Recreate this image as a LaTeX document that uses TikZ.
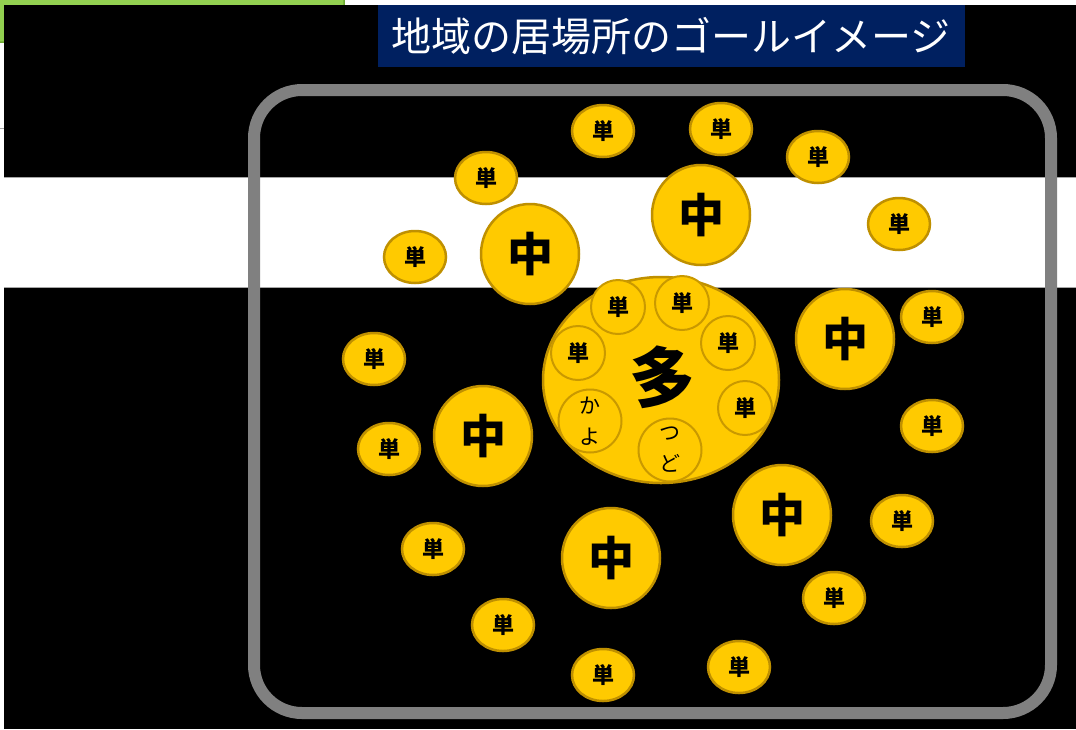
\documentclass[tikz,border=0pt]{standalone}
\usepackage{fontspec}
\newfontfamily\cjk{Noto Sans CJK JP}
\usetikzlibrary{shapes.geometric}
\definecolor{gold}{RGB}{255,202,0}
\definecolor{goldedge}{RGB}{191,144,0}
\definecolor{navy}{RGB}{0,32,96}
\definecolor{framegray}{RGB}{128,128,128}
\definecolor{lime}{RGB}{146,208,80}
\definecolor{limeedge}{RGB}{110,170,50}
\begin{document}
\begin{tikzpicture}[x=1pt,y=-1pt,
  tan/.style={ellipse, fill=gold, draw=goldedge, line width=2.5pt, minimum width=62pt, minimum height=52pt, inner sep=0pt, font=\cjk\bfseries\fontsize{22}{22}\selectfont},
  chu/.style={ellipse, fill=gold, draw=goldedge, line width=2.5pt, minimum width=98pt, minimum height=100pt, inner sep=0pt, font=\cjk\bfseries\fontsize{46}{46}\selectfont},
  inner/.style={circle, fill=gold, draw=goldedge!85!gold, line width=2pt, minimum size=54pt, inner sep=0pt, font=\cjk\bfseries\fontsize{22}{22}\selectfont},
  kana/.style={circle, fill=gold, draw=goldedge!85!gold, line width=2pt, minimum size=63pt, inner sep=0pt, align=center, font=\cjk\fontsize{21}{31}\selectfont}]
\useasboundingbox (0,0) rectangle (1076,729);
\fill[white] (0,0) rectangle (1076,729);
% green shape top-left
\draw[fill=lime, draw=limeedge, line width=1.5pt, rounded corners=30pt] (-40,-40) rectangle (344,42);
% black background
\fill[black] (4,5) rectangle (1076,729);
% white band
\fill[white] (4,177) rectangle (1076,287);
\draw[gray!70, line width=1pt] (4,177) -- (1076,177);
\draw[gray!70, line width=1pt] (4,287) -- (1076,287);
\draw[gray!70, line width=0.8pt] (0,128) -- (4,128);
% title
\node[fill=navy, minimum width=587pt, minimum height=62pt, inner sep=0pt, text=white,
      font=\cjk\fontsize{40}{40}\selectfont] (title) at (671,36) {地域の居場所のゴールイメージ};
% frame
\draw[framegray, line width=12pt, rounded corners=48pt] (254,90) rectangle (1051,713);
% big circle
\node[ellipse, fill=gold, draw=goldedge, line width=2.5pt, minimum width=236pt, minimum height=206pt, inner sep=0pt] (multi) at (661,380) {};
\node[font=\cjk\bfseries\fontsize{66}{66}\selectfont] (multitext) at (662,377) {多};
\node[inner] (i1) at (618,307) {単};
\node[inner] (i2) at (682,303) {単};
\node[inner] (i3) at (728,343) {単};
\node[inner] (i4) at (745,408) {単};
\node[inner] (i5) at (578,353) {単};
\node[kana] (k1) at (590,421) {か\\よ};
\node[kana] (k2) at (670,450) {つ\\ど};
% medium circles
\node[chu] (c1) at (530,254) {中};
\node[chu] (c2) at (701,215) {中};
\node[chu] (c3) at (845,339) {中};
\node[chu] (c4) at (483,436) {中};
\node[chu] (c5) at (782,515) {中};
\node[chu] (c6) at (611,558) {中};
% small circles
\node[tan] (s1) at (603,131) {単};
\node[tan] (s2) at (721,129) {単};
\node[tan] (s3) at (818,157) {単};
\node[tan] (s4) at (486,178) {単};
\node[tan] (s5) at (899,224) {単};
\node[tan] (s6) at (415,257) {単};
\node[tan] (s7) at (932,317) {単};
\node[tan] (s8) at (374,359) {単};
\node[tan] (s9) at (932,426) {単};
\node[tan] (s10) at (389,449) {単};
\node[tan] (s11) at (902,521) {単};
\node[tan] (s12) at (433,549) {単};
\node[tan] (s13) at (834,598) {単};
\node[tan] (s14) at (503,625) {単};
\node[tan] (s15) at (739,667) {単};
\node[tan] (s16) at (603,675) {単};
\end{tikzpicture}
\end{document}
